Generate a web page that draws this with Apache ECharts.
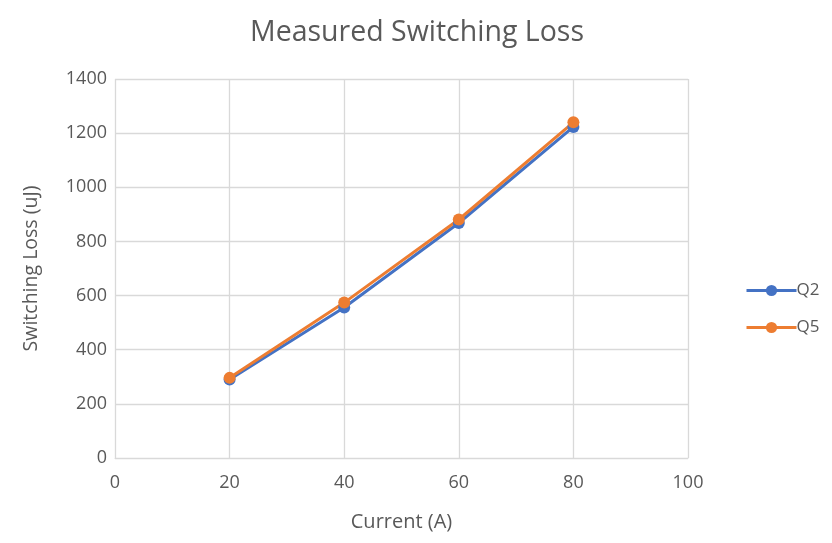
<!DOCTYPE html>
<html>
<head>
<meta charset="utf-8">
<script src="https://cdn.jsdelivr.net/npm/echarts@6/dist/echarts.min.js"></script>
<style>html,body{margin:0;padding:0;background:#fff;}#c{width:832px;height:543px;}</style>
</head>
<body>
<div id="c"></div>
<script>
const currents = [20, 40, 60, 80];
const q2 = [290, 556, 868, 1223];
const q5 = [296, 574, 881, 1240];
const seriesNames = ['Q2', 'Q5'];

const chart = echarts.init(document.getElementById('c'));
const font = '"Open Sans", sans-serif';
const grey = '#595959';
chart.setOption({
  animation: false,
  title: {
    text: 'Measured Switching Loss',
    left: 412, top: 13, textAlign: 'center',
    textStyle: { fontFamily: font, fontSize: 28.5, fontWeight: 'normal', color: grey }
  },
  legend: {
    orient: 'vertical', left: 740, top: 277, itemGap: 20,
    itemWidth: 50, itemHeight: 14,
    lineStyle: { width: 3 },
    textStyle: { fontFamily: font, fontSize: 17, color: grey, padding: [0, 0, 0, -5] },
    data: seriesNames
  },
  grid: { left: 115, right: 144, top: 79, bottom: 85 },
  xAxis: {
    type: 'value', min: 0, max: 100, interval: 20,
    name: 'Current (A)', nameLocation: 'middle', nameGap: 54,
    nameTextStyle: { fontFamily: font, fontSize: 20, color: grey },
    axisLine: { show: true, lineStyle: { color: '#d9d9d9' } },
    axisTick: { show: false },
    axisLabel: { fontFamily: font, fontSize: 18, color: grey, margin: 16 },
    splitLine: { show: true, lineStyle: { color: '#d9d9d9', width: 1.3 } }
  },
  yAxis: {
    type: 'value', min: 0, max: 1400, interval: 200,
    name: 'Switching Loss (uJ)', nameLocation: 'middle', nameGap: 74,
    nameTextStyle: { fontFamily: font, fontSize: 19.5, color: grey },
    axisLine: { show: false },
    axisTick: { show: false },
    axisLabel: { fontFamily: font, fontSize: 18, color: grey, margin: 8, formatter: v => String(v) },
    splitLine: { show: true, lineStyle: { color: '#d9d9d9', width: 1.3 } }
  },
  series: [
    { name: seriesNames[0], type: 'line', data: currents.map((x, i) => [x, q2[i]]),
      color: '#4472C4', symbol: 'circle', symbolSize: 12, lineStyle: { width: 3 } },
    { name: seriesNames[1], type: 'line', data: currents.map((x, i) => [x, q5[i]]),
      color: '#ED7D31', symbol: 'circle', symbolSize: 12, lineStyle: { width: 3 } }
  ]
});
</script>
</body>
</html>
